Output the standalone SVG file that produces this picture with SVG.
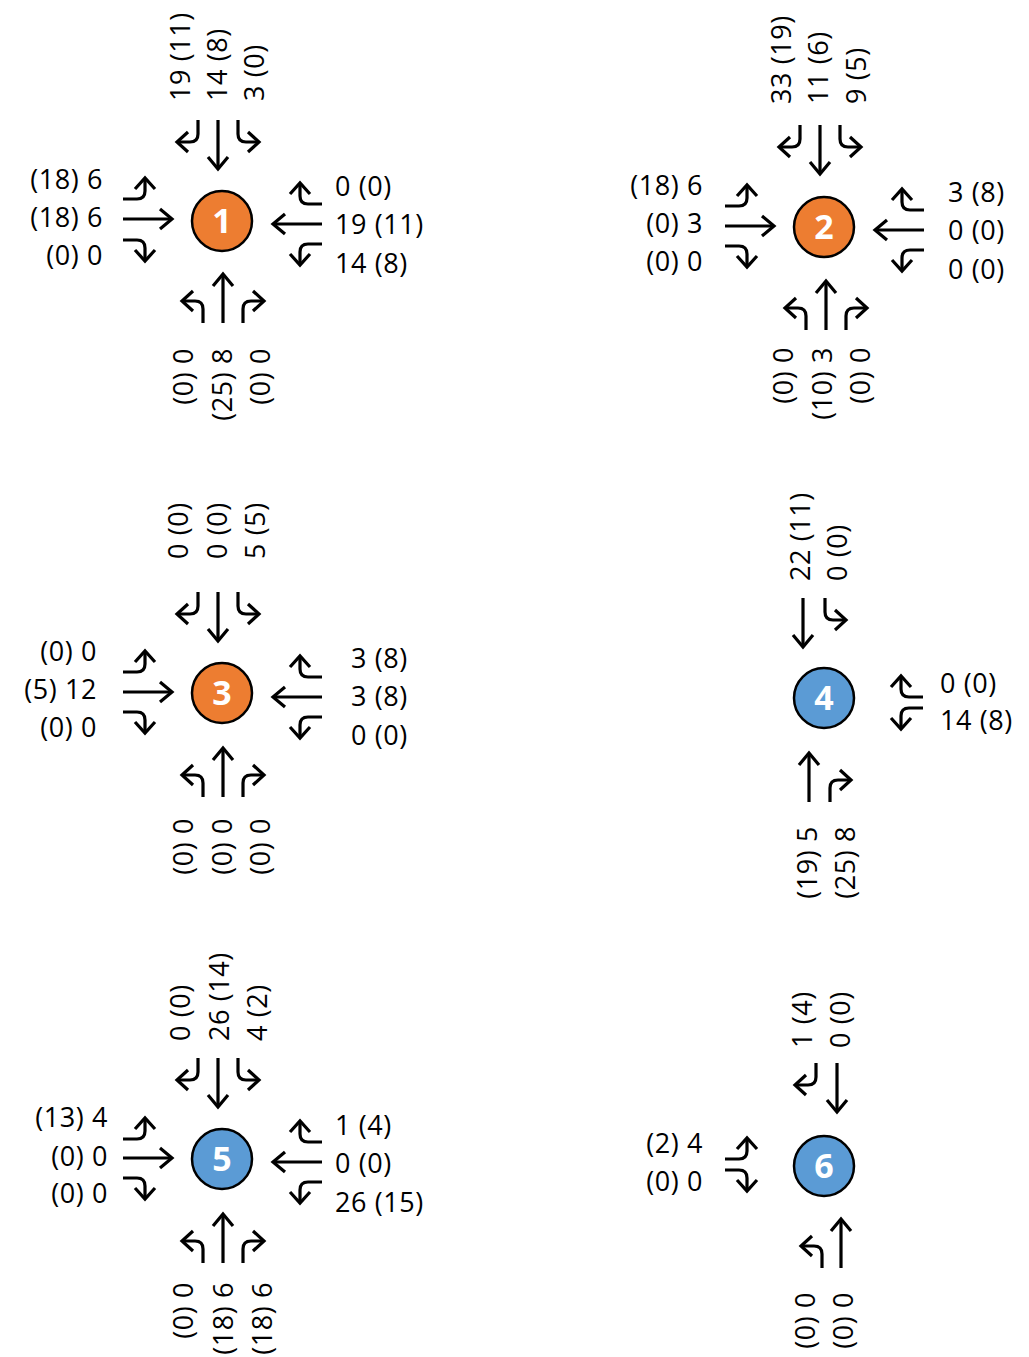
<svg xmlns="http://www.w3.org/2000/svg" xmlns:xlink="http://www.w3.org/1999/xlink" width="1029" height="1357" viewBox="0 0 1029 1357">
  <style>
    .lbl { font-family: "Open Sans", "Noto Sans", sans-serif; font-size: 27px; letter-spacing: 0.6px; fill: #000; }
    .end { text-anchor: end; }
    .num { font-family: "Open Sans", "Noto Sans", sans-serif; font-size: 34px; font-weight: 700; fill: #fff; text-anchor: middle; }
    .orange { fill: #ED7D31; stroke: #000; stroke-width: 2.5; }
    .blue { fill: #5B9BD5; stroke: #000; stroke-width: 2.5; }
    .mv { fill: none; stroke: #000; stroke-width: 3.2; stroke-linejoin: miter; }
  </style>
  <defs>
    <!-- movement arrows, drawn heading +y from the lane start at the origin -->
    <g id="S" class="mv">
      <path d="M0,0 V49"/>
      <path d="M-10,37 L0,49 L10,37"/>
    </g>
    <g id="TL" class="mv">
      <path d="M0,0 V14 Q0,22 -8,22 H-21"/>
      <path d="M-10,12 L-21,22 L-10,32"/>
    </g>
    <g id="TR" class="mv">
      <path d="M0,0 V14 Q0,22 8,22 H21"/>
      <path d="M10,12 L21,22 L10,32"/>
    </g>
  </defs>

  <rect width="1029" height="1357" fill="#fff"/>

  <!-- Intersection 1 -->
  <g id="node-1">
    <g class="movements">
      <use href="#TL" transform="translate(198,120)"/>
      <use href="#S" transform="translate(218,120)"/>
      <use href="#TR" transform="translate(238,120)"/>
      <use href="#TR" transform="translate(123,199) rotate(-90)"/>
      <use href="#S" transform="translate(123,219) rotate(-90)"/>
      <use href="#TL" transform="translate(123,240) rotate(-90)"/>
      <use href="#TL" transform="translate(322,204) rotate(90)"/>
      <use href="#S" transform="translate(322,224) rotate(90)"/>
      <use href="#TR" transform="translate(322,244) rotate(90)"/>
      <use href="#TR" transform="translate(203,323) rotate(180)"/>
      <use href="#S" transform="translate(223,323) rotate(180)"/>
      <use href="#TL" transform="translate(243,323) rotate(180)"/>
    </g>
    <circle class="orange" cx="222" cy="221" r="30"/>
    <text class="num" x="222" y="233">1</text>
    <text class="lbl" transform="translate(189.5,101) rotate(-90)">19 (11)</text>
    <text class="lbl" transform="translate(226.5,101) rotate(-90)">14 (8)</text>
    <text class="lbl" transform="translate(263.5,101) rotate(-90)">3 (0)</text>
    <text class="lbl end" x="103" y="189">(18) 6</text>
    <text class="lbl end" x="103" y="227">(18) 6</text>
    <text class="lbl end" x="103" y="265">(0) 0</text>
    <text class="lbl" x="335" y="196">0 (0)</text>
    <text class="lbl" x="335" y="234">19 (11)</text>
    <text class="lbl" x="335" y="273">14 (8)</text>
    <text class="lbl end" transform="translate(193.3,348) rotate(-90)">(0) 0</text>
    <text class="lbl end" transform="translate(231.7,348) rotate(-90)">(25) 8</text>
    <text class="lbl end" transform="translate(270,348) rotate(-90)">(0) 0</text>
  </g>

  <!-- Intersection 2 -->
  <g id="node-2">
    <g class="movements">
      <use href="#TL" transform="translate(800,125)"/>
      <use href="#S" transform="translate(820,125)"/>
      <use href="#TR" transform="translate(840,125)"/>
      <use href="#TR" transform="translate(725,206) rotate(-90)"/>
      <use href="#S" transform="translate(725,226) rotate(-90)"/>
      <use href="#TL" transform="translate(725,246) rotate(-90)"/>
      <use href="#TL" transform="translate(924,210) rotate(90)"/>
      <use href="#S" transform="translate(924,230) rotate(90)"/>
      <use href="#TR" transform="translate(924,250) rotate(90)"/>
      <use href="#TR" transform="translate(806,330) rotate(180)"/>
      <use href="#S" transform="translate(826,330) rotate(180)"/>
      <use href="#TL" transform="translate(846,330) rotate(180)"/>
    </g>
    <circle class="orange" cx="824" cy="227" r="30"/>
    <text class="num" x="824" y="239">2</text>
    <text class="lbl" transform="translate(790.7,104) rotate(-90)">33 (19)</text>
    <text class="lbl" transform="translate(828.3,104) rotate(-90)">11 (6)</text>
    <text class="lbl" transform="translate(866,104) rotate(-90)">9 (5)</text>
    <text class="lbl end" x="703" y="195">(18) 6</text>
    <text class="lbl end" x="703" y="233">(0) 3</text>
    <text class="lbl end" x="703" y="271">(0) 0</text>
    <text class="lbl" x="948" y="202">3 (8)</text>
    <text class="lbl" x="948" y="240">0 (0)</text>
    <text class="lbl" x="948" y="279">0 (0)</text>
    <text class="lbl end" transform="translate(793.3,347) rotate(-90)">(0) 0</text>
    <text class="lbl end" transform="translate(831.7,347) rotate(-90)">(10) 3</text>
    <text class="lbl end" transform="translate(870,347) rotate(-90)">(0) 0</text>
  </g>

  <!-- Intersection 3 -->
  <g id="node-3">
    <g class="movements">
      <use href="#TL" transform="translate(198,592)"/>
      <use href="#S" transform="translate(218,592)"/>
      <use href="#TR" transform="translate(238,592)"/>
      <use href="#TR" transform="translate(123,672) rotate(-90)"/>
      <use href="#S" transform="translate(123,692) rotate(-90)"/>
      <use href="#TL" transform="translate(123,712) rotate(-90)"/>
      <use href="#TL" transform="translate(322,677) rotate(90)"/>
      <use href="#S" transform="translate(322,697) rotate(90)"/>
      <use href="#TR" transform="translate(322,717) rotate(90)"/>
      <use href="#TR" transform="translate(203,797) rotate(180)"/>
      <use href="#S" transform="translate(223,797) rotate(180)"/>
      <use href="#TL" transform="translate(243,797) rotate(180)"/>
    </g>
    <circle class="orange" cx="222" cy="693" r="30"/>
    <text class="num" x="222" y="705">3</text>
    <text class="lbl" transform="translate(188.3,559) rotate(-90)">0 (0)</text>
    <text class="lbl" transform="translate(226.7,559) rotate(-90)">0 (0)</text>
    <text class="lbl" transform="translate(265,559) rotate(-90)">5 (5)</text>
    <text class="lbl end" x="97" y="661">(0) 0</text>
    <text class="lbl end" x="97" y="699">(5) 12</text>
    <text class="lbl end" x="97" y="737">(0) 0</text>
    <text class="lbl" x="351" y="668">3 (8)</text>
    <text class="lbl" x="351" y="706">3 (8)</text>
    <text class="lbl" x="351" y="745">0 (0)</text>
    <text class="lbl end" transform="translate(193.3,818) rotate(-90)">(0) 0</text>
    <text class="lbl end" transform="translate(231.7,818) rotate(-90)">(0) 0</text>
    <text class="lbl end" transform="translate(270,818) rotate(-90)">(0) 0</text>
  </g>

  <!-- Intersection 4 -->
  <g id="node-4">
    <g class="movements">
      <use href="#S" transform="translate(803,598)"/>
      <use href="#TR" transform="translate(825,598)"/>
      <use href="#TL" transform="translate(923,697) rotate(90)"/>
      <use href="#TR" transform="translate(923,708) rotate(90)"/>
      <use href="#S" transform="translate(809,802) rotate(180)"/>
      <use href="#TL" transform="translate(830,802) rotate(180)"/>
    </g>
    <circle class="blue" cx="824" cy="698" r="30"/>
    <text class="num" x="824" y="710">4</text>
    <text class="lbl" transform="translate(810,581) rotate(-90)">22 (11)</text>
    <text class="lbl" transform="translate(846.7,581) rotate(-90)">0 (0)</text>
    <text class="lbl" x="940" y="693">0 (0)</text>
    <text class="lbl" x="940" y="730">14 (8)</text>
    <text class="lbl end" transform="translate(817,826) rotate(-90)">(19) 5</text>
    <text class="lbl end" transform="translate(855,826) rotate(-90)">(25) 8</text>
  </g>

  <!-- Intersection 5 -->
  <g id="node-5">
    <g class="movements">
      <use href="#TL" transform="translate(198,1058)"/>
      <use href="#S" transform="translate(218,1058)"/>
      <use href="#TR" transform="translate(238,1058)"/>
      <use href="#TR" transform="translate(123,1139) rotate(-90)"/>
      <use href="#S" transform="translate(123,1158) rotate(-90)"/>
      <use href="#TL" transform="translate(123,1178) rotate(-90)"/>
      <use href="#TL" transform="translate(322,1142) rotate(90)"/>
      <use href="#S" transform="translate(322,1162) rotate(90)"/>
      <use href="#TR" transform="translate(322,1182) rotate(90)"/>
      <use href="#TR" transform="translate(203,1263) rotate(180)"/>
      <use href="#S" transform="translate(223,1263) rotate(180)"/>
      <use href="#TL" transform="translate(243,1263) rotate(180)"/>
    </g>
    <circle class="blue" cx="222" cy="1159" r="30"/>
    <text class="num" x="222" y="1171">5</text>
    <text class="lbl" transform="translate(190,1041) rotate(-90)">0 (0)</text>
    <text class="lbl" transform="translate(229,1041) rotate(-90)">26 (14)</text>
    <text class="lbl" transform="translate(266.7,1041) rotate(-90)">4 (2)</text>
    <text class="lbl end" x="108" y="1127">(13) 4</text>
    <text class="lbl end" x="108" y="1166">(0) 0</text>
    <text class="lbl end" x="108" y="1203">(0) 0</text>
    <text class="lbl" x="335" y="1135">1 (4)</text>
    <text class="lbl" x="335" y="1173">0 (0)</text>
    <text class="lbl" x="335" y="1212">26 (15)</text>
    <text class="lbl end" transform="translate(193.3,1282) rotate(-90)">(0) 0</text>
    <text class="lbl end" transform="translate(233,1282) rotate(-90)">(18) 6</text>
    <text class="lbl end" transform="translate(271.7,1282) rotate(-90)">(18) 6</text>
  </g>

  <!-- Intersection 6 -->
  <g id="node-6">
    <g class="movements">
      <use href="#TL" transform="translate(816,1063)"/>
      <use href="#S" transform="translate(837,1063)"/>
      <use href="#TR" transform="translate(725,1159) rotate(-90)"/>
      <use href="#TL" transform="translate(725,1170) rotate(-90)"/>
      <use href="#TR" transform="translate(822,1268) rotate(180)"/>
      <use href="#S" transform="translate(841,1268) rotate(180)"/>
    </g>
    <circle class="blue" cx="824" cy="1166" r="30"/>
    <text class="num" x="824" y="1178">6</text>
    <text class="lbl" transform="translate(811.7,1048) rotate(-90)">1 (4)</text>
    <text class="lbl" transform="translate(850,1048) rotate(-90)">0 (0)</text>
    <text class="lbl end" x="703" y="1153">(2) 4</text>
    <text class="lbl end" x="703" y="1191">(0) 0</text>
    <text class="lbl end" transform="translate(815,1292) rotate(-90)">(0) 0</text>
    <text class="lbl end" transform="translate(853,1292) rotate(-90)">(0) 0</text>
  </g>

  <!-- no links between the intersections -->
  <g id="connectors"/>
</svg>
